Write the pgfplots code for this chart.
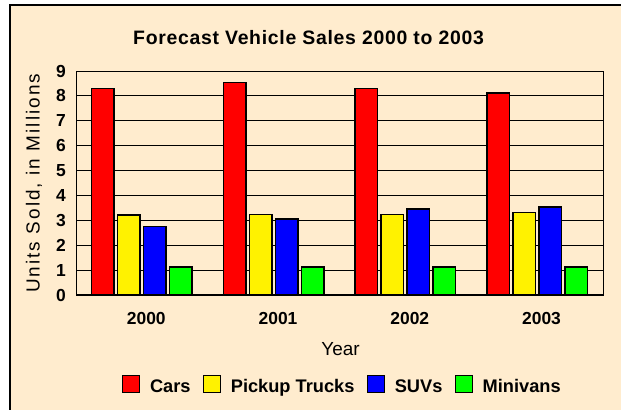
\documentclass[border=0pt]{standalone}
\usepackage{fontspec}
\setmainfont{Liberation Sans}
\newfontfamily\titlefont[LetterSpace=3.6]{Liberation Sans}
\newfontfamily\ylabfont[LetterSpace=11]{Liberation Sans}
\usepackage{pgfplots}
\pgfplotsset{compat=1.18}
\definecolor{bg}{RGB}{255,236,206}
\begin{document}
\begin{tikzpicture}[x=1bp,y=1bp]
\useasboundingbox (0,0) rectangle (621,409);
\fill[white] (0,0) rectangle (621,409);
\begin{scope}
\clip (0,0) rectangle (621,409);
\filldraw[fill=bg, draw=black, line width=1.4bp] (10,-10) rectangle (640,404);
\end{scope}
\node[anchor=base west, inner sep=0pt, font=\titlefont\bfseries\fontsize{19.5}{23}\selectfont] at (133,364.5) {Forecast Vehicle Sales 2000 to 2003};
\begin{axis}[
  at={(76bp,113.5bp)}, anchor=south west,
  scale only axis, width=527bp, height=224.5bp,
  xmin=-0.5, xmax=3.5, ymin=0, ymax=9,
  axis line style={black, line width=1bp},
  ytick={0,...,9}, ymajorgrids, grid style={black, line width=1bp},
  major tick length=0pt,
  xtick={0,1,2,3}, xticklabels={2000,2001,2002,2003},
  /pgf/number format/assume math mode=true,
  tick label style={font=\bfseries\fontsize{17.5}{20}\selectfont, inner sep=0pt},
  yticklabel style={anchor=east, xshift=-10bp},
  xticklabel style={anchor=base, yshift=-29bp, xshift=4.4bp},
  xlabel={Year}, ylabel={Units Sold, in Millions},
  label style={font=\fontsize{19}{22}\selectfont, inner sep=0pt},
  xlabel style={at={(axis description cs:0.502,0)}, anchor=base, yshift=-59.5bp},
  ylabel style={at={(axis description cs:-0.069,0.5)}, anchor=base, font=\ylabfont\fontsize{19}{22}\selectfont},
  legend columns=-1,
  legend cell align=left,
  legend style={draw=none, fill=none, inner sep=0pt, outer sep=0pt,
    at={(0.0873,-0.396)}, anchor=west,
    font=\bfseries\fontsize{18.3}{21}\selectfont,
    nodes={inner sep=0pt}, cells={anchor=base west},
    /tikz/every odd column/.style={column sep=10bp},
    /tikz/every even column/.style={column sep=12.3bp}},
  legend image code/.code={\draw[#1, line width=1bp] (0bp,-0.5bp) rectangle (17bp,16.5bp);},
  every axis plot/.append style={ybar, bar width=22.4bp, draw=black, line width=1.6bp},
]
\addplot[bar shift=-39bp, fill=red]
  coordinates {(0,8.30) (1,8.54) (2,8.30) (3,8.11)};
\addlegendentry{Cars}
\addplot[bar shift=-13bp, fill=yellow]
  coordinates {(0,3.22) (1,3.24) (2,3.24) (3,3.32)};
\addlegendentry{Pickup Trucks}
\addplot[bar shift=13bp, fill=blue]
  coordinates {(0,2.76) (1,3.06) (2,3.48) (3,3.56)};
\addlegendentry{SUVs}
\addplot[bar shift=39bp, fill=green]
  coordinates {(0,1.14) (1,1.14) (2,1.14) (3,1.14)};
\addlegendentry{Minivans}
\draw[black, line width=2.3bp] (axis cs:-0.5,0) -- (axis cs:3.5,0);
\end{axis}
\end{tikzpicture}
\end{document}
